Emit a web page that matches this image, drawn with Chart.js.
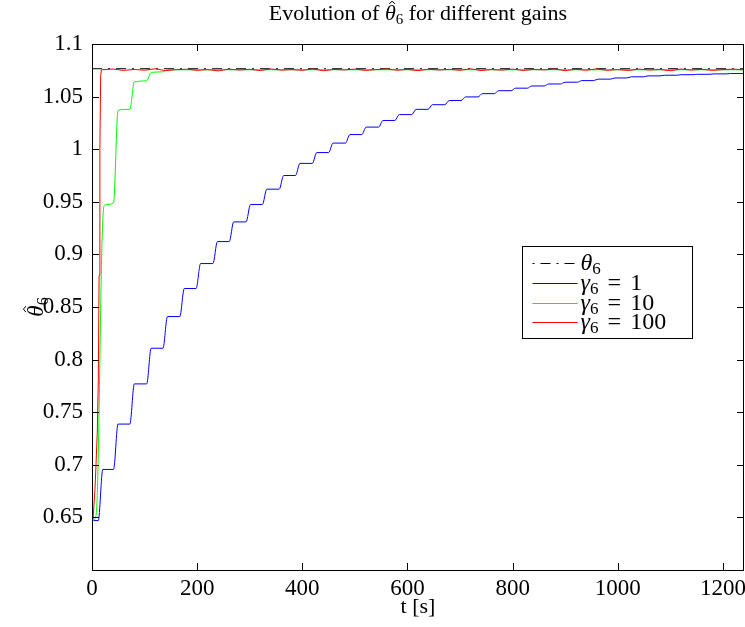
<!DOCTYPE html>
<html lang="en">
<head>
    <meta charset="UTF-8">
    <title>Evolution of theta6 for different gains</title>
    <script src="https://cdn.jsdelivr.net/npm/chart.js"></script>
    <style>
        html, body {
            margin: 0;
            padding: 0;
            background: #fff;
        }
        #wrap {
            width: 745px;
            height: 627px;
        }
    </style>
</head>
<body>
    <div id="wrap"><canvas id="thetaChart"></canvas></div>

    <script>
        // ---- values ----
        const tMax = 1240;
        const thetaTrue = 1.0765;
        const startValue = 0.647;

        const xTicks = [0, 200, 400, 600, 800, 1000, 1200];
        const yTicks = [0.65, 0.7, 0.75, 0.8, 0.85, 0.9, 0.95, 1, 1.05, 1.1];
        const yMin = 0.6, yMax = 1.1;

        const chartTitle = 'Evolution of θ̂₆ for different gains';
        const xTitle = 't [s]';
        const yTitle = 'θ̂₆';

        // gamma = 1 : staircase, time each rise starts and the plateau it reaches
        const blueRiseT = [12, 41, 72, 104, 135, 167, 198, 230, 261, 293,
                           324, 356, 387, 419, 450, 482, 513, 545, 576, 608,
                           639, 671, 702, 734, 765, 797, 828, 860, 891, 923,
                           954, 986, 1017, 1049, 1080, 1112, 1143, 1175, 1206, 1238];
        const blueLevel = [0.6956, 0.7387, 0.7769, 0.8108, 0.8409, 0.8676, 0.8913, 0.9122, 0.9309, 0.9474,
                           0.9620, 0.9750, 0.9865, 0.9968, 1.0058, 1.0139, 1.0210, 1.0273, 1.0329, 1.0379,
                           1.0423, 1.0463, 1.0497, 1.0528, 1.0556, 1.0580, 1.0601, 1.0620, 1.0637, 1.0652,
                           1.0666, 1.0677, 1.0688, 1.0697, 1.0703, 1.0708, 1.0712, 1.0716, 1.0719, 1.0722];
        const riseDur = 8.5;

        // gamma = 10
        const greenT = [0, 5, 9, 12, 15, 18, 21, 24, 41, 49.5, 72, 80.5, 104, 112.5, 135, 143.5, 1240];
        const greenY = [0.647, 0.648, 0.66, 0.71, 0.80, 0.89, 0.937, 0.947, 0.949, 1.037, 1.038, 1.064, 1.065, 1.073, 1.0735, 1.0755, 1.0755];

        // gamma = 100 (fast rise, then small noise around the true value)
        const redT = [0, 2, 6, 10, 12, 13.5, 15, 16.5, 18,
                      40, 60, 80, 100, 120, 140, 160, 180, 200, 220, 240, 260, 280, 300,
                      320, 340, 360, 380, 400, 420, 440, 460, 480, 500, 520, 540, 560, 580, 600,
                      620, 640, 660, 680, 700, 720, 740, 760, 780, 800, 820, 840, 860, 880, 900,
                      920, 940, 960, 980, 1000, 1020, 1040, 1060, 1080, 1100, 1120, 1140, 1160, 1180, 1200,
                      1220, 1240];
        const redY = [0.647, 0.648, 0.68, 0.73, 0.78, 0.88, 1.0, 1.07, 1.0755,
                      1.0762, 1.0749, 1.0758, 1.0751, 1.0764, 1.0747, 1.0756, 1.0760, 1.0750, 1.0757, 1.0745, 1.0761, 1.0753, 1.0759,
                      1.0748, 1.0763, 1.0752, 1.0757, 1.0750, 1.0762, 1.0746, 1.0758, 1.0754, 1.0761, 1.0749, 1.0756, 1.0763, 1.0751, 1.0758,
                      1.0747, 1.0760, 1.0753, 1.0759, 1.0750, 1.0764, 1.0748, 1.0757, 1.0752, 1.0761, 1.0749, 1.0758, 1.0754, 1.0762, 1.0747,
                      1.0759, 1.0751, 1.0763, 1.0750, 1.0757, 1.0748, 1.0761, 1.0753, 1.0758, 1.0746, 1.0762, 1.0752, 1.0759, 1.0750, 1.0756,
                      1.0761, 1.0754];

        // ---- build point lists ----
        const thetaPts = [{x: 0, y: thetaTrue}, {x: tMax, y: thetaTrue}];

        const bluePts = [{x: 0, y: startValue}];
        let prev = startValue;
        blueRiseT.forEach((t, i) => {
            bluePts.push({x: t, y: prev});
            bluePts.push({x: t + riseDur, y: blueLevel[i]});
            prev = blueLevel[i];
        });

        const greenPts = greenT.map((t, i) => ({x: t, y: greenY[i]}));
        const redPts = redT.map((t, i) => ({x: t, y: redY[i]}));

        const FONT = "'Liberation Serif', 'Times New Roman', serif";
        const TICK = 7;

        // split a label into pieces: greek letters italic, subscript digits, combining hat
        function toParts(str) {
            const parts = [];
            for (const ch of str) {
                const code = ch.charCodeAt(0);
                const last = parts[parts.length - 1];
                if (ch === '\u0302') { if (last) last.hat = true; continue; }
                if (code >= 0x2080 && code <= 0x2089) { parts.push({text: String(code - 0x2080), sub: true}); continue; }
                if (code >= 0x0370 && code <= 0x03FF) { parts.push({text: ch, italic: true}); continue; }
                if (ch === ' ') { parts.push({text: ' ', space: true}); continue; }
                if (last && !last.sub && !last.italic && !last.space) last.text += ch;
                else parts.push({text: ch});
            }
            return parts;
        }

        // draw label at baseline y; align 'left' or 'center'; spaceEm widens spaces (math style)
        function drawMath(ctx, str, x, y, size, align, spaceEm) {
            const parts = toParts(str);
            const fontOf = p => (p.italic ? 'italic ' : '') + (p.sub ? Math.round(size * 0.7) : size) + 'px ' + FONT;
            let total = 0;
            parts.forEach(p => {
                ctx.font = fontOf(p);
                p.w = (p.space && spaceEm) ? size * spaceEm : ctx.measureText(p.text).width;
                total += p.w;
            });
            let cx = align === 'center' ? x - total / 2 : x;
            ctx.textAlign = 'left';
            ctx.textBaseline = 'alphabetic';
            parts.forEach(p => {
                ctx.font = fontOf(p);
                if (!p.space) ctx.fillText(p.text, cx, p.sub ? y + size * 0.2 : y);
                if (p.hat) {
                    const hx = cx + p.w / 2 + size * 0.08;
                    const hy = y - size * 0.74;
                    ctx.beginPath();
                    ctx.moveTo(hx - size * 0.13, hy);
                    ctx.lineTo(hx, hy - size * 0.11);
                    ctx.lineTo(hx + size * 0.13, hy);
                    ctx.lineWidth = 1;
                    ctx.strokeStyle = '#000';
                    ctx.setLineDash([]);
                    ctx.stroke();
                }
                cx += p.w;
            });
        }

        // inward ticks on all four sides, box, titles and the legend inside the plot
        const frameAndLegend = {
            id: 'frameAndLegend',
            afterDraw(chart) {
                const {ctx, chartArea: a, scales: {x, y}} = chart;
                ctx.save();
                ctx.strokeStyle = '#000';
                ctx.lineWidth = 1;
                ctx.setLineDash([]);
                ctx.beginPath();
                x.ticks.forEach(t => {
                    const px = Math.round(x.getPixelForValue(t.value)) + 0.5;
                    if (px <= a.left + 1 || px >= a.right - 1) return;
                    ctx.moveTo(px, a.bottom); ctx.lineTo(px, a.bottom - TICK);
                    ctx.moveTo(px, a.top); ctx.lineTo(px, a.top + TICK);
                });
                y.ticks.forEach(t => {
                    const py = Math.round(y.getPixelForValue(t.value)) + 0.5;
                    if (py <= a.top + 1 || py >= a.bottom - 1) return;
                    ctx.moveTo(a.left, py); ctx.lineTo(a.left + TICK, py);
                    ctx.moveTo(a.right, py); ctx.lineTo(a.right - TICK, py);
                });
                ctx.stroke();
                ctx.strokeRect(Math.round(a.left) + 0.5, Math.round(a.top) + 0.5,
                               Math.round(a.right - a.left) - 1, Math.round(a.bottom - a.top));

                ctx.fillStyle = '#000';
                // chart title, centred over the plot area
                drawMath(ctx, chartTitle, (a.left + a.right) / 2, 20, 22, 'center');

                // y axis title, rotated
                ctx.save();
                ctx.translate(43, (a.top + a.bottom) / 2);
                ctx.rotate(-Math.PI / 2);
                drawMath(ctx, yTitle, 0, 0, 23, 'center');
                ctx.restore();

                // legend box
                const bx = Math.round(a.right) - 222 + 0.5, by = Math.round(a.top) + 202 + 0.5;
                const bw = 170, bh = 92;
                ctx.fillStyle = '#fff';
                ctx.fillRect(bx, by, bw, bh);
                ctx.strokeStyle = '#000';
                ctx.strokeRect(bx, by, bw, bh);
                chart.data.datasets.forEach((ds, i) => {
                    const ry = Math.round(by + 16.5 + i * 19.8) + 0.5;
                    ctx.strokeStyle = ds.borderColor;
                    ctx.lineWidth = 1;
                    ctx.setLineDash(ds.borderDash || []);
                    ctx.lineDashOffset = ds.borderDash ? 16 : 0;
                    ctx.beginPath();
                    ctx.moveTo(bx + 10, ry);
                    ctx.lineTo(bx + 55, ry);
                    ctx.stroke();
                    ctx.setLineDash([]);
                    ctx.lineDashOffset = 0;
                    ctx.fillStyle = '#000';
                    drawMath(ctx, ds.label, bx + 58, ry + 6, 24, 'left', 0.38);
                });
                ctx.restore();
            }
        };

        const ctx = document.getElementById('thetaChart').getContext('2d');
        new Chart(ctx, {
            type: 'line',
            data: {
                datasets: [
                    {
                        label: 'θ₆',
                        data: thetaPts,
                        borderColor: '#000000',
                        borderWidth: 1,
                        borderDash: [10, 6, 2, 6],
                        pointRadius: 0,
                        order: 3
                    },
                    {
                        label: 'γ₆ = 1',
                        data: bluePts,
                        borderColor: '#0000ff',
                        borderWidth: 1,
                        cubicInterpolationMode: 'monotone',
                        pointRadius: 0,
                        order: 2
                    },
                    {
                        label: 'γ₆ = 10',
                        data: greenPts,
                        borderColor: '#00ff00',
                        borderWidth: 1,
                        cubicInterpolationMode: 'monotone',
                        pointRadius: 0,
                        order: 1
                    },
                    {
                        label: 'γ₆ = 100',
                        data: redPts,
                        borderColor: '#ff0000',
                        borderWidth: 1,
                        tension: 0,
                        pointRadius: 0,
                        order: 0
                    }
                ]
            },
            options: {
                responsive: true,
                maintainAspectRatio: false,
                animation: false,
                layout: {
                    padding: {left: 0, right: 1, top: 44, bottom: 0}
                },
                plugins: {
                    legend: {display: false},
                    tooltip: {enabled: false},
                    title: {display: false}
                },
                scales: {
                    x: {
                        type: 'linear',
                        min: 0,
                        max: tMax,
                        grid: {display: false, drawTicks: false},
                        border: {display: false},
                        afterBuildTicks(scale) { scale.ticks = xTicks.map(v => ({value: v})); },
                        ticks: {
                            autoSkip: false,
                            maxRotation: 0,
                            padding: 5,
                            color: '#000',
                            font: {family: FONT, size: 23},
                            callback: v => String(v)
                        },
                        title: {
                            display: true,
                            text: xTitle,
                            color: '#000',
                            font: {family: FONT, size: 22},
                            padding: {top: 0, bottom: 7}
                        },
                        afterFit(scale) {
                            scale.height = 57;
                            scale.paddingLeft = 0;
                            scale.paddingRight = 0;
                        }
                    },
                    y: {
                        min: yMin,
                        max: yMax,
                        grid: {display: false, drawTicks: false},
                        border: {display: false},
                        afterBuildTicks(scale) { scale.ticks = yTicks.map(v => ({value: v})); },
                        ticks: {
                            padding: 9,
                            color: '#000',
                            font: {family: FONT, size: 23},
                            callback: v => String(v)
                        },
                        afterFit(scale) {
                            scale.width = 92;
                            scale.paddingTop = 0;
                            scale.paddingBottom = 0;
                        }
                    }
                }
            },
            plugins: [frameAndLegend]
        });
    </script>
</body>
</html>
